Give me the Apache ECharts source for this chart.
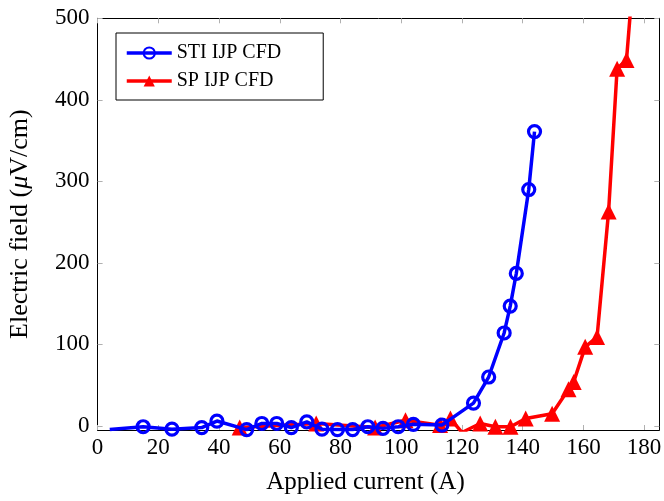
<!DOCTYPE html>
<html>
<head>
<meta charset="utf-8">
<script src="https://cdn.jsdelivr.net/npm/echarts@6/dist/echarts.min.js"></script>
<style>
  html, body { margin: 0; padding: 0; background: #fff; }
  #chart { width: 664px; height: 501px; }
</style>
</head>
<body>
<div id="chart"></div>
<script>
// STI IJP CFD (blue circles)
var stiX = [4, 15, 24.5, 34.3, 39.3, 49.1, 54.1, 59, 63.8, 68.9, 73.9, 79, 84, 89, 94, 99, 104, 113.4, 123.8, 128.8, 133.9, 135.9, 137.9, 142, 143.9];
var stiY = [-4.5, -1, -4, -2, 6, -4.5, 3, 3, -2, 5, -4, -4.5, -4.5, -1, -3, -1, 2, 1, 28, 60, 114, 147, 187, 290, 361];
// SP IJP CFD (red triangles)
var spX = [46.8, 72, 91.4, 101.4, 112.8, 116.2, 120, 126, 131, 136, 141, 149.7, 155.1, 156.8, 160.6, 164.5, 168.3, 171.1, 174.2, 176.5];
var spY = [-2, 3, -2, 7, 1, 9, -8, 3, -1, -1, 9, 15, 45, 54, 97, 109, 263, 438, 449, 555];

var xTicks = [0, 20, 40, 60, 80, 100, 120, 140, 160, 180];
var yTicks = [0, 100, 200, 300, 400, 500];

var font = "Liberation Serif";

function pairs(xs, ys) {
  var out = [];
  for (var i = 0; i < xs.length; i++) out.push([xs[i], ys[i]]);
  return out;
}

var stiData = pairs(stiX, stiY);
// first point is drawn as line only
stiData[0] = { value: stiData[0], symbol: "none" };

var chart = echarts.init(document.getElementById("chart"));

var tickStyle = { show: true, inside: true, length: 5, lineStyle: { color: "#b0b0b0", width: 1 } };
var lineAxis = { show: true, onZero: false, lineStyle: { color: "#000", width: 1 } };

var option = {
  animation: false,
  grid: { left: 97.6, right: 4.7, top: 18.3, bottom: 71, outerBoundsMode: "none" },
  legend: {
    orient: "vertical",
    left: 116,
    top: 33,
    padding: [9, 42, 8, 9],
    itemGap: 6,
    itemWidth: 45,
    itemHeight: 14,
    borderColor: "#000",
    borderWidth: 1,
    backgroundColor: "#fff",
    lineStyle: { width: 3.5 },
    textStyle: { fontFamily: font, fontSize: 20, color: "#000", lineHeight: 22 },
    data: ["STI IJP CFD", "SP IJP CFD"]
  },
  xAxis: [
    {
      type: "value",
      min: 0,
      max: 185,
      name: "Applied current (A)",
      nameLocation: "middle",
      nameGap: 40,
      nameTextStyle: { fontFamily: font, fontSize: 25, color: "#000", padding: [0, 26, 0, 0] },
      axisLine: lineAxis,
      axisTick: Object.assign({ customValues: xTicks }, tickStyle),
      axisLabel: { customValues: xTicks, fontFamily: font, fontSize: 23, color: "#000", margin: 6 },
      splitLine: { show: false }
    },
    {
      type: "value",
      position: "top",
      min: 0,
      max: 185,
      axisLine: lineAxis,
      axisTick: Object.assign({ customValues: xTicks }, tickStyle),
      axisLabel: { show: false },
      splitLine: { show: false }
    }
  ],
  yAxis: [
    {
      type: "value",
      min: -5,
      max: 500,
      name: "Electric field ({i|μ}V/cm)",
      nameLocation: "middle",
      nameGap: 64,
      nameTextStyle: {
        fontFamily: font, fontSize: 26, color: "#000",
        rich: { i: { fontFamily: font, fontSize: 26, fontStyle: "italic", color: "#000" } }
      },
      axisLine: lineAxis,
      axisTick: Object.assign({ customValues: yTicks }, tickStyle),
      axisLabel: { customValues: yTicks, fontFamily: font, fontSize: 23, color: "#000", margin: 8 },
      splitLine: { show: false }
    },
    {
      type: "value",
      position: "right",
      min: -5,
      max: 500,
      axisLine: lineAxis,
      axisTick: Object.assign({ customValues: yTicks }, tickStyle),
      axisLabel: { show: false },
      splitLine: { show: false }
    }
  ],
  series: [
    {
      name: "STI IJP CFD",
      type: "line",
      clip: true,
      data: stiData,
      symbol: "circle",
      symbolSize: 12,
      showAllSymbol: true,
      lineStyle: { color: "#0000ff", width: 3.5 },
      itemStyle: { color: "rgba(255,255,255,0)", borderColor: "#0000ff", borderWidth: 3.2 },
      z: 3
    },
    {
      name: "SP IJP CFD",
      type: "line",
      clip: true,
      data: pairs(spX, spY),
      symbol: "triangle",
      symbolSize: 16,
      showAllSymbol: true,
      lineStyle: { color: "#ff0000", width: 3.5 },
      itemStyle: { color: "#ff0000", borderWidth: 0 },
      z: 2
    }
  ]
};

chart.setOption(option);
</script>
</body>
</html>
